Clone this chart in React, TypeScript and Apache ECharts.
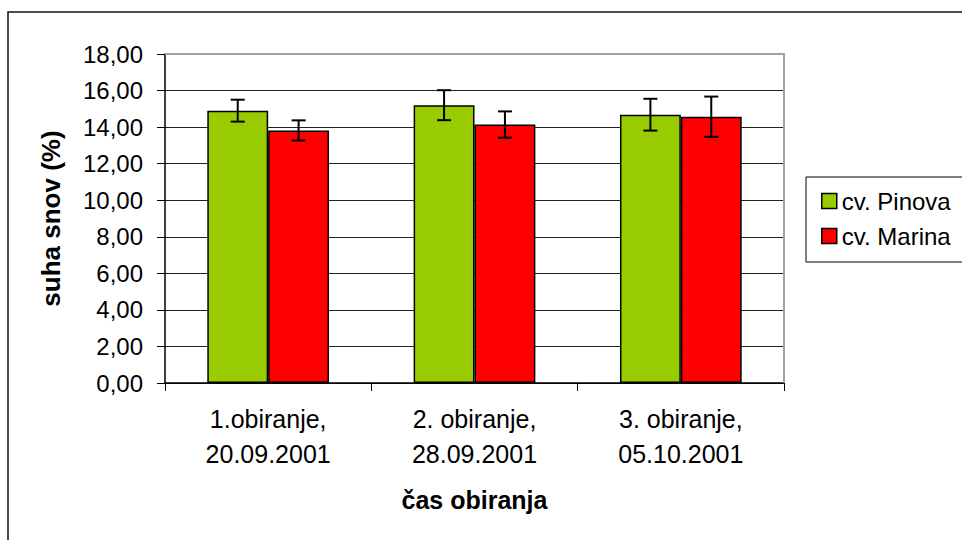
import React, { useEffect, useRef } from "react";
import * as echarts from "echarts";

const categories = ["1.obiranje,\n20.09.2001", "2. obiranje,\n28.09.2001", "3. obiranje,\n05.10.2001"];
const pinova = [14.9, 15.2, 14.68];
const pinovaErr = [0.6, 0.82, 0.87];
const marina = [13.82, 14.14, 14.57];
const marinaErr = [0.55, 0.72, 1.1];
const seriesNames = ["cv. Pinova", "cv. Marina"];
const colors = ["#99CC00", "#FF0000"];

const FONT = "'Liberation Sans', Arial, sans-serif";
const CAT_GAP = 0.41;

function errorSeries(means: number[], errs: number[], side: number) {
  return {
    type: "custom",
    silent: true,
    z: 10,
    data: means.map((m, i) => [i, m - errs[i], m + errs[i]]),
    renderItem: (params: any, api: any) => {
      const idx = api.value(0);
      const lo = api.coord([idx, api.value(1)]);
      const hi = api.coord([idx, api.value(2)]);
      const band = api.size([1, 0])[0];
      const bw = (band * (1 - CAT_GAP)) / 2;
      const x = lo[0] + side * bw / 2;
      const cap = 7;
      const style = { stroke: "#000", lineWidth: 2 };
      return {
        type: "group",
        children: [
          { type: "line", shape: { x1: x, y1: lo[1], x2: x, y2: hi[1] }, style },
          { type: "line", shape: { x1: x - cap, y1: lo[1], x2: x + cap, y2: lo[1] }, style },
          { type: "line", shape: { x1: x - cap, y1: hi[1], x2: x + cap, y2: hi[1] }, style },
        ],
      };
    },
  };
}

export default function App() {
  const ref = useRef<HTMLDivElement>(null);
  useEffect(() => {
    const chart = echarts.init(ref.current!, null, { renderer: "svg" });
    chart.setOption({
      animation: false,
      backgroundColor: "#fff",
      textStyle: { fontFamily: FONT },
      grid: { left: 165, right: 178, top: 54, bottom: 157, containLabel: false },
      legend: {
        orient: "vertical",
        left: 816,
        top: 184,
        itemWidth: 15,
        itemHeight: 15,
        itemGap: 11,
        icon: "rect",
        data: seriesNames,
        textStyle: { fontFamily: FONT, fontSize: 24, color: "#000", padding: [0, 0, 8, 0] },
        itemStyle: { borderColor: "#000", borderWidth: 1.5 },
      },
      xAxis: {
        type: "category",
        data: categories,
        name: "čas obiranja",
        nameLocation: "middle",
        nameGap: 104,
        nameTextStyle: { fontFamily: FONT, fontSize: 25, fontWeight: "bold", color: "#000" },
        axisLine: { lineStyle: { color: "#000", width: 1.5 } },
        axisTick: { show: true, length: 8, alignWithLabel: false, lineStyle: { color: "#000", width: 1 } },
        axisLabel: { fontFamily: FONT, fontSize: 25, color: "#000", lineHeight: 35, margin: 18 },
      },
      yAxis: {
        type: "value",
        min: 0,
        max: 18,
        interval: 2,
        name: "suha snov (%)",
        nameLocation: "middle",
        nameGap: 101,
        nameTextStyle: { fontFamily: FONT, fontSize: 26, fontWeight: "bold", color: "#000" },
        axisLine: { show: true, lineStyle: { color: "#000", width: 1.5 } },
        axisTick: { show: true, length: 8, lineStyle: { color: "#000", width: 1 } },
        axisLabel: {
          fontFamily: FONT,
          fontSize: 24,
          color: "#000",
          margin: 22,
          formatter: (v: number) => v.toFixed(2).replace(".", ","),
        },
        splitLine: { show: true, lineStyle: { color: "#222", width: 1 } },
      },
      graphic: [
        {
          type: "rect",
          shape: { x: 8, y: 12, width: 980, height: 560 },
          style: { fill: "none", stroke: "#111", lineWidth: 1.5 },
          silent: true,
          z: 0,
        },
        {
          type: "polyline",
          shape: { points: [[165, 54], [784, 54], [784, 383]] },
          style: { fill: "none", stroke: "#a0a0a0", lineWidth: 2 },
          silent: true,
          z: 5,
        },
        {
          type: "rect",
          shape: { x: 806, y: 177, width: 170, height: 85 },
          style: { fill: "none", stroke: "#000", lineWidth: 1 },
          silent: true,
          z: 5,
        },
      ],
      series: [
        {
          name: seriesNames[0],
          type: "bar",
          data: pinova,
          barGap: "0%",
          barCategoryGap: CAT_GAP * 100 + "%",
          itemStyle: { color: colors[0], borderColor: "#000", borderWidth: 1.5 },
        },
        {
          name: seriesNames[1],
          type: "bar",
          data: marina,
          barGap: "0%",
          barCategoryGap: CAT_GAP * 100 + "%",
          itemStyle: { color: colors[1], borderColor: "#000", borderWidth: 1.5 },
        },
        errorSeries(pinova, pinovaErr, -1),
        errorSeries(marina, marinaErr, 1),
      ],
    });
    return () => chart.dispose();
  }, []);
  return (
    <div
      ref={ref}
      style={{ position: "absolute", left: 0, top: 0, width: 962, height: 540 }}
    />
  );
}
